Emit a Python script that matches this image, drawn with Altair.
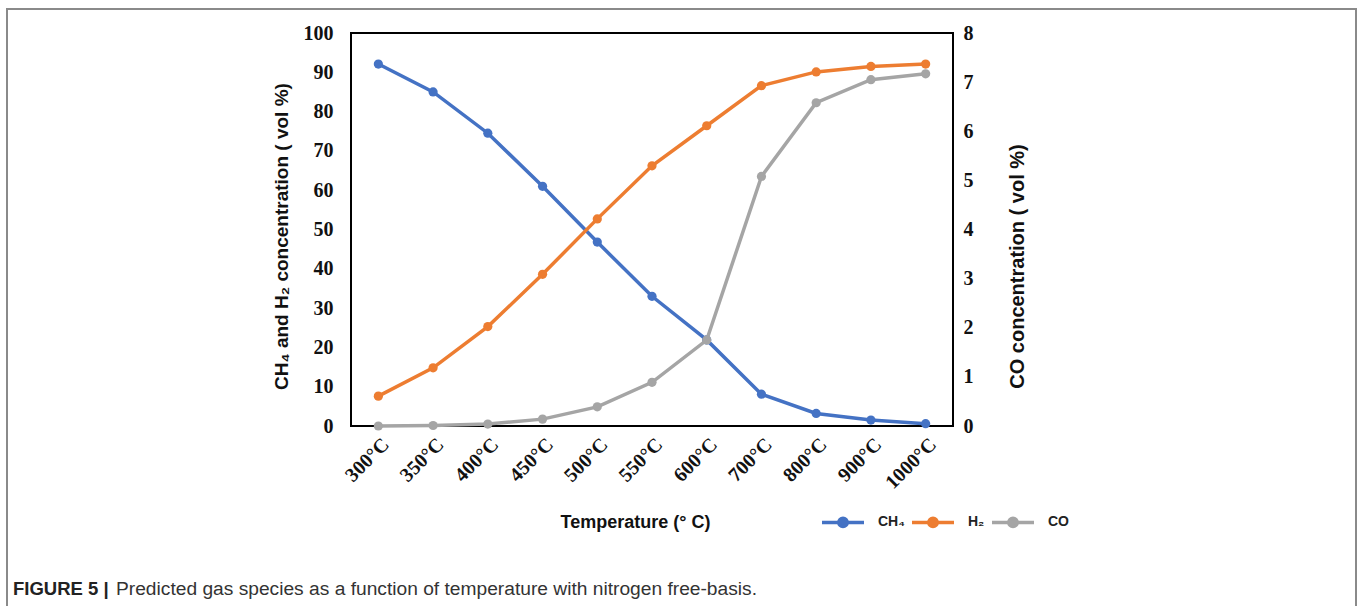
import altair as alt
import pandas as pd

temps = ["300°C", "350°C", "400°C", "450°C", "500°C", "550°C", "600°C",
         "700°C", "800°C", "900°C", "1000°C"]
ch4 = [92.1, 85.0, 74.5, 61.0, 46.8, 33.0, 21.9, 8.1, 3.2, 1.5, 0.6]
h2 = [7.6, 14.8, 25.3, 38.6, 52.7, 66.2, 76.4, 86.6, 90.1, 91.5, 92.1]
co = [0.0, 0.01, 0.04, 0.14, 0.39, 0.89, 1.75, 5.08, 6.58, 7.05, 7.17]

series = ["CH₄", "H₂", "CO"]
colors = ["#4472C4", "#ED7D31", "#A5A5A5"]

caption_bold = ["FIGURE 5 |"]
caption_text = ["Predicted gas species as a function of temperature with nitrogen free-basis."]

W, H = 602, 393
PL, PT = 351, 33

left_df = pd.DataFrame({
    "temp": temps * 2,
    "value": ch4 + h2,
    "series": [series[0]] * len(temps) + [series[1]] * len(temps),
})
co_df = pd.DataFrame({"temp": temps, "value": co, "series": series[2]})
one = pd.DataFrame({"k": [0]})

sym_path = ("M-1,0L1,0M-0.2,0a0.2,0.2 0 1,0 0.4,0a0.2,0.2 0 1,0 -0.4,0Z")

legend = alt.Legend(title=None, orient="none", legendX=469, legendY=466,
                    direction="horizontal", symbolType=sym_path, symbolSize=1764,
                    symbolStrokeWidth=3.5, symbolOpacity=1, labelOffset=12,
                    columnPadding=0, padding=0,
                    labelFont="Liberation Sans", labelFontWeight="bold",
                    labelFontSize=14, labelColor="#222")
color = alt.Color("series:N", scale=alt.Scale(domain=series, range=colors), legend=legend)
color_nl = alt.Color("series:N", scale=alt.Scale(domain=series, range=colors), legend=None)

xscale = alt.Scale(type="point", padding=0.5)
xaxis = alt.Axis(title="Temperature (° C)", labelAngle=-45,
                 labelFont="Liberation Serif", labelFontWeight="bold",
                 labelFontSize=20, labelColor="#111", labelPadding=8,
                 ticks=False, domain=False,
                 titleFont="Liberation Sans", titleFontWeight="bold",
                 titleFontSize=18, titleColor="#111",
                 titleX=284, titleY=96, titleBaseline="middle")
xenc = alt.X("temp:N", sort=temps, scale=xscale, axis=xaxis)

yleft = alt.Y("value:Q", scale=alt.Scale(domain=[0, 100]),
              axis=alt.Axis(title="CH₄ and H₂ concentration ( vol %)",
                            values=list(range(0, 101, 10)), grid=False,
                            ticks=False, domain=False,
                            labelFont="Liberation Serif", labelFontWeight="bold",
                            labelFontSize=20, labelColor="#111", labelPadding=18,
                            titleFont="Liberation Sans", titleFontWeight="bold",
                            titleFontSize=19, titleColor="#111", titlePadding=12,
                            titleY=203))
yleft_plain = alt.Y("value:Q", scale=alt.Scale(domain=[0, 100]), axis=None)
yright = alt.Y("value:Q", scale=alt.Scale(domain=[0, 8]),
               axis=alt.Axis(title="CO concentration ( vol %)", orient="right",
                             values=list(range(0, 9)), grid=False,
                             ticks=False, domain=False, titleAngle=270,
                             labelFont="Liberation Serif", labelFontWeight="bold",
                             labelFontSize=20, labelColor="#111", labelPadding=10,
                             titleFont="Liberation Sans", titleFontWeight="bold",
                             titleFontSize=20, titleColor="#111", titlePadding=54,
                             titleY=233))
yright_plain = alt.Y("value:Q", scale=alt.Scale(domain=[0, 8]), axis=None)

left_line = alt.Chart(left_df).mark_line(strokeWidth=3.5).encode(
    x=xenc, y=yleft, color=color, detail="series:N")
left_pts = alt.Chart(left_df).mark_point(filled=True, size=85, opacity=1).encode(
    x=xenc, y=yleft_plain, color=color_nl)
co_line = alt.Chart(co_df).mark_line(strokeWidth=3.5).encode(
    x=xenc, y=yright, color=color_nl)
co_pts = alt.Chart(co_df).mark_point(filled=True, size=85, opacity=1).encode(
    x=xenc, y=yright_plain, color=color_nl)

frame = alt.Chart(one).mark_rect(fill=None, stroke="#8a8a8a", strokeWidth=2).encode(
    x=alt.value(7 - PL), x2=alt.value(1356 - PL), y=alt.value(9 - PT), y2=alt.value(720 - PT))

cap_b = alt.Chart(pd.DataFrame({"t": caption_bold})).mark_text(
    align="left", baseline="middle", font="Liberation Sans",
    fontWeight="bold", fontSize=18.5, color="#222").encode(
    x=alt.value(13 - PL), y=alt.value(589 - PT), text="t:N")
cap_r = alt.Chart(pd.DataFrame({"t": caption_text})).mark_text(
    align="left", baseline="middle", font="Liberation Sans",
    fontSize=19.2, color="#333").encode(
    x=alt.value(116 - PL), y=alt.value(589 - PT), text="t:N")

chart = alt.layer(frame, left_line, left_pts, co_line, co_pts, cap_b, cap_r).resolve_scale(
    y="independent"
).properties(
    width=W, height=H,
    autosize=alt.AutoSizeParams(type="none"),
    padding={"left": PL, "top": PT, "right": 1358 - PL - W, "bottom": 606 - PT - H},
).configure(background="white").configure_view(stroke="#000", strokeWidth=2)

chart.save("out.html", embed_options={"renderer": "svg", "actions": False})
